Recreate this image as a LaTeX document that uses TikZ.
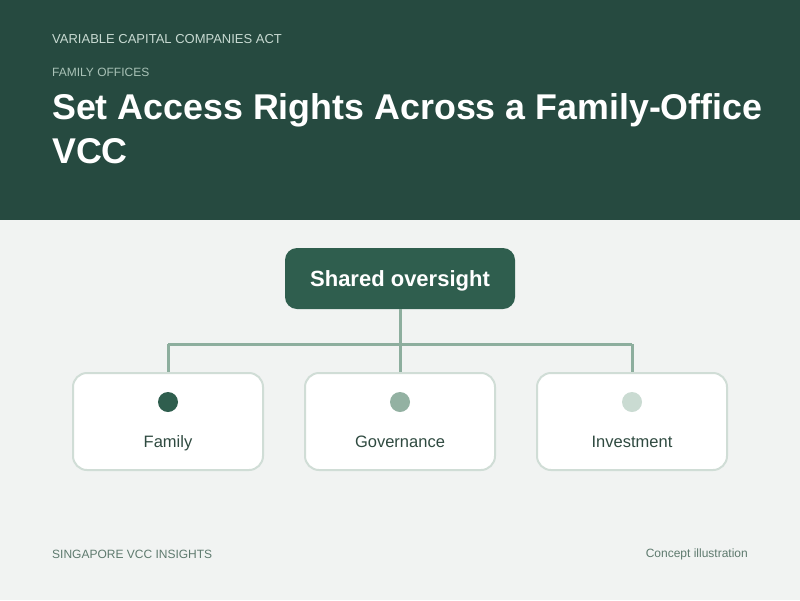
\documentclass[tikz,border=0pt]{standalone}
\usepackage{fontspec}
\setmainfont{Liberation Sans}
\definecolor{hdr}{HTML}{264A40}
\definecolor{bg}{HTML}{F1F3F2}
\definecolor{topbox}{HTML}{2F5E4E}
\definecolor{conn}{HTML}{8DAE9E}
\definecolor{boxborder}{HTML}{D0DDD6}
\definecolor{dotA}{HTML}{2F5E4E}
\definecolor{dotB}{HTML}{93B1A2}
\definecolor{dotC}{HTML}{CADBD2}
\definecolor{lbl}{HTML}{2F4A40}
\definecolor{kick}{HTML}{C8DAD2}
\definecolor{kick2}{HTML}{A9C2B7}
\definecolor{foot}{HTML}{5E7A6E}
\tikzset{
  topnode/.style={draw=none, fill=topbox, rounded corners=12pt, minimum width=230pt, minimum height=61pt},
  toplabel/.style={anchor=base, text=white, font=\fontsize{22}{26}\selectfont\bfseries},
  leaf/.style={draw=boxborder, line width=2pt, fill=white, rounded corners=14pt, minimum width=190pt, minimum height=97pt},
  dotmark/.style={circle, minimum size=20pt, inner sep=0pt},
  leaflabel/.style={anchor=base, text=lbl, font=\fontsize{16.5}{20}\selectfont},
  connector/.style={draw=conn, line width=3pt},
}
\begin{document}
\begin{tikzpicture}[x=1pt,y=-1pt]
\useasboundingbox (0,0) rectangle (800,600);
\fill[bg] (0,0) rectangle (800,600);
\fill[hdr] (0,0) rectangle (800,220);
\node[anchor=west, text=kick, font=\fontsize{13}{16}\selectfont, inner sep=0pt] (kicker) at (52,39) {VARIABLE CAPITAL COMPANIES ACT};
\node[anchor=west, text=kick2, font=\fontsize{12}{15}\selectfont, inner sep=0pt] (section) at (52,72.5) {FAMILY OFFICES};
\node[anchor=base west, text=white, font=\fontsize{35.8}{44}\selectfont\bfseries, inner sep=0pt] (title1) at (52,119) {Set Access Rights Across a Family-Office};
\node[anchor=base west, text=white, font=\fontsize{35.8}{44}\selectfont\bfseries, inner sep=0pt] (title2) at (52,163) {VCC};

\node[topnode] (top) at (400,278.5) {};
\node[toplabel] (toplbl) at (400,286.5) {Shared oversight};
\node[leaf] (fam) at (168,421.5) {};
\node[leaf] (gov) at (400,421.5) {};
\node[leaf] (inv) at (632,421.5) {};

\coordinate (hub) at (400,344);
\coordinate (hl) at (168,344);
\coordinate (hr) at (632,344);
\draw[connector] (top.south) -- (hub);
\draw[connector] (hl) -- (hr);
\draw[connector] (hl) -- (fam.north);
\draw[connector] (hub) -- (gov.north);
\draw[connector] (hr) -- (inv.north);

\node[dotmark, fill=dotA] (famdot) at (168,402) {};
\node[dotmark, fill=dotB] (govdot) at (400,402) {};
\node[dotmark, fill=dotC] (invdot) at (632,402) {};
\node[leaflabel] (famlbl) at (168,447) {Family};
\node[leaflabel] (govlbl) at (400,447) {Governance};
\node[leaflabel] (invlbl) at (632,447) {Investment};

\node[anchor=west, text=foot, font=\fontsize{12}{14}\selectfont, inner sep=0pt] (footl) at (52,554) {SINGAPORE VCC INSIGHTS};
\node[anchor=east, text=foot, font=\fontsize{12}{14}\selectfont, inner sep=0pt] (footr) at (748,554) {Concept illustration};
\end{tikzpicture}
\end{document}
